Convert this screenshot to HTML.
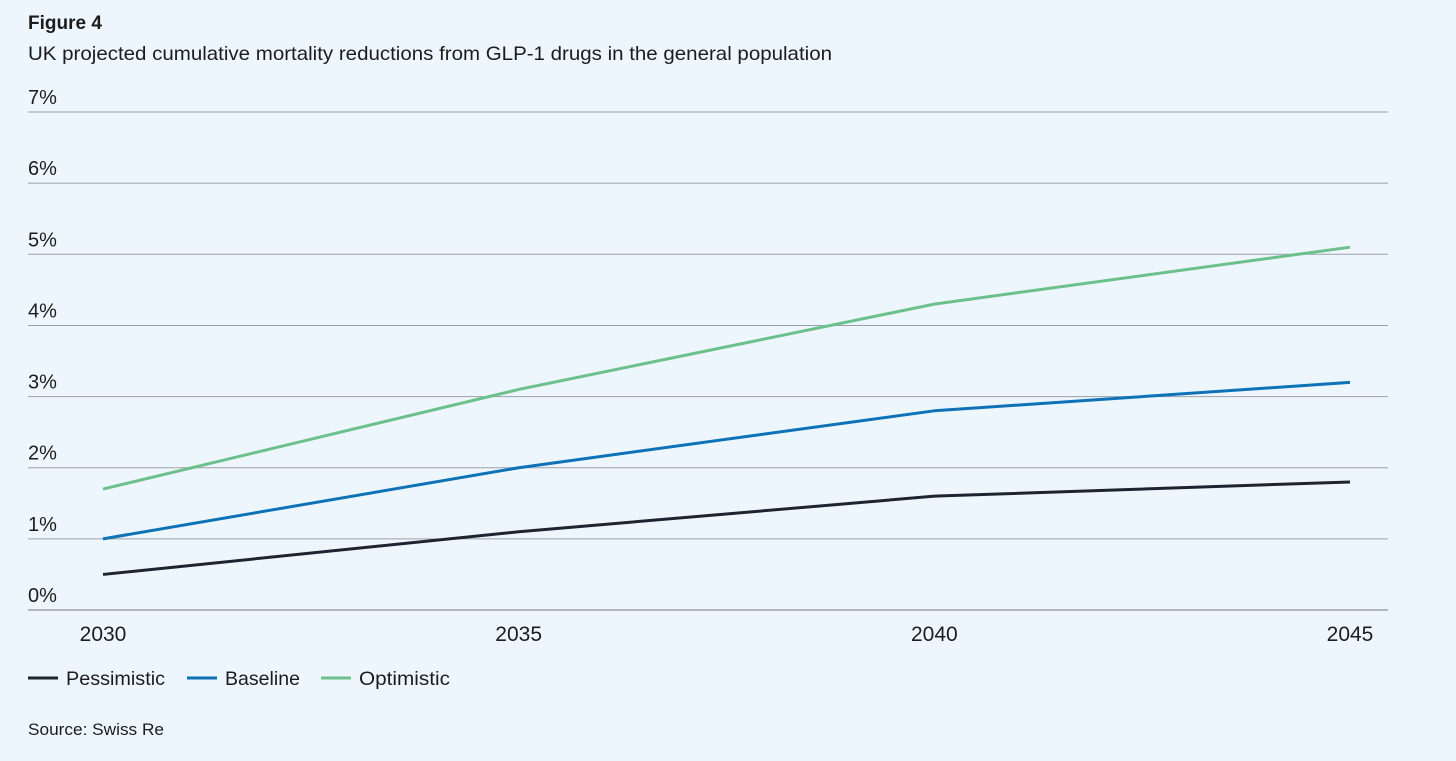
<!DOCTYPE html>
<html><head><meta charset="utf-8"><style>
html,body{margin:0;padding:0;background:#eef6fd;}
body{width:1456px;height:756px;overflow:hidden;font-family:"Liberation Sans",sans-serif;color:#1c1c1c;}
svg text{font-family:"Liberation Sans",sans-serif;}
</style></head><body>
<svg id="chart" width="1456" height="756" xmlns="http://www.w3.org/2000/svg">
<text x="28" y="29" font-size="19" font-weight="bold" fill="#1c1c1c">Figure 4</text>
<text x="28" y="60" font-size="19.5" fill="#1c1c1c" textLength="804" lengthAdjust="spacingAndGlyphs">UK projected cumulative mortality reductions from GLP-1 drugs in the general population</text>
<g id="grid"></g>
<g id="lines"></g>
<g>
<line x1="28" y1="678" x2="58" y2="678" stroke="#1d2330" stroke-width="3"/>
<text x="66" y="685" font-size="19.5" fill="#1c1c1c" textLength="99" lengthAdjust="spacingAndGlyphs">Pessimistic</text>
<line x1="187" y1="678" x2="217" y2="678" stroke="#0e72b6" stroke-width="3"/>
<text x="225" y="685" font-size="19.5" fill="#1c1c1c" textLength="75" lengthAdjust="spacingAndGlyphs">Baseline</text>
<line x1="321" y1="678" x2="351" y2="678" stroke="#6cc08b" stroke-width="3"/>
<text x="359" y="685" font-size="19.5" fill="#1c1c1c" textLength="91" lengthAdjust="spacingAndGlyphs">Optimistic</text>
</g>
<text x="28" y="735" font-size="17" fill="#1c1c1c" textLength="136" lengthAdjust="spacingAndGlyphs">Source: Swiss Re</text>
</svg>
<script>
const years = [2030, 2035, 2040, 2045];
const pessimistic = [0.5, 1.1, 1.6, 1.8];
const baseline = [1.0, 2.0, 2.8, 3.2];
const optimistic = [1.7, 3.1, 4.3, 5.1];
const yTicks = [0,1,2,3,4,5,6,7];

const NS = "http://www.w3.org/2000/svg";
const xS = v => 103 + (v - 2030) / 15 * (1350 - 103);
const yS = v => 610 - v * 71.14;
const grid = document.getElementById('grid');
yTicks.forEach(t => {
  const l = document.createElementNS(NS,'line');
  
  
  l.setAttribute('x1',28); l.setAttribute('x2',1388);
  l.setAttribute('y1',yS(t)); l.setAttribute('y2',yS(t));
  l.setAttribute('stroke', '#9aa0a8'); l.setAttribute('stroke-width', t===0?1.5:1);
  grid.appendChild(l);
  const tx = document.createElementNS(NS,'text');
  
  
  tx.setAttribute('x',28); tx.setAttribute('y',yS(t)-8);
  tx.setAttribute('font-size','20'); tx.setAttribute('fill','#1c1c1c');
  tx.textContent = t + '%';
  grid.appendChild(tx);
});
years.forEach(y => {
  const tx = document.createElementNS(NS,'text');
  
  
  tx.setAttribute('x',xS(y)); tx.setAttribute('y',641);
  tx.setAttribute('text-anchor','middle');
  tx.setAttribute('font-size','21'); tx.setAttribute('fill','#1c1c1c');
  tx.textContent = y;
  grid.appendChild(tx);
});
const lines = document.getElementById('lines');
[[pessimistic,'#1d2330','pessimistic-line'],[baseline,'#0e72b6','baseline-line'],[optimistic,'#6cc08b','optimistic-line']].forEach(([d,c,n]) => {
  const p = document.createElementNS(NS,'polyline');
  
  
  p.setAttribute('points', d.map((v,i)=>xS(years[i])+','+yS(v)).join(' '));
  p.setAttribute('fill','none'); p.setAttribute('stroke',c); p.setAttribute('stroke-width','3');
  p.setAttribute('stroke-linejoin','round');
  lines.appendChild(p);
});
</script>
</body></html>
